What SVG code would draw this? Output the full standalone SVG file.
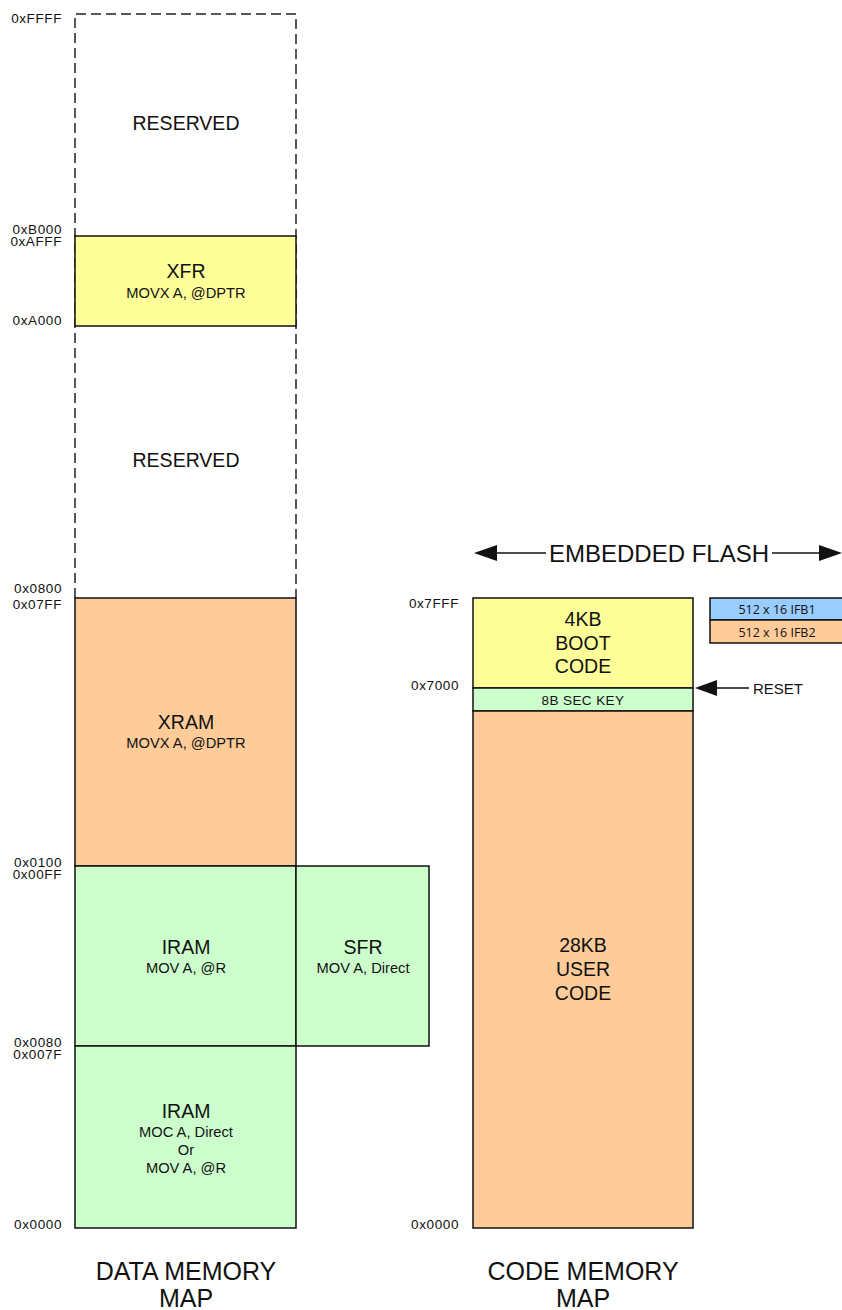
<svg xmlns="http://www.w3.org/2000/svg" width="842" height="1310" viewBox="0 0 842 1310">
<defs>
<style>
text{font-family:"Liberation Sans",Arial,sans-serif;fill:#111}
.addr{font-size:13.5px;letter-spacing:0.6px;text-anchor:end}
.big{font-size:19.5px;text-anchor:middle}
.sub{font-size:14.7px;text-anchor:middle}
.title{font-size:25px;text-anchor:middle}
.ifb{font-family:"Open Sans","Noto Sans",sans-serif;font-size:12.5px;text-anchor:middle}
.box{stroke:#111;stroke-width:1.5}
.dash{fill:none;stroke:#222;stroke-width:1.5;stroke-dasharray:10 5}
.yel{fill:#FFFF99}.org{fill:#FFCC99}.grn{fill:#CCFFCC}.blu{fill:#99CCFF}
</style>
</defs>
<g id="data-reserved-frame">
<path class="dash" d="M75,598 V14 H296 V598"/>
</g>
<g id="reserved-top"><text class="big" x="186" y="130">RESERVED</text></g>
<g id="xfr">
<rect class="box yel" x="75" y="236" width="221" height="90"/>
<text class="big" x="186" y="278">XFR</text>
<text class="sub" x="186" y="298">MOVX A, @DPTR</text>
</g>
<g id="reserved-mid"><text class="big" x="186" y="467">RESERVED</text></g>
<g id="xram">
<rect class="box org" x="75" y="598" width="221" height="268"/>
<text class="big" x="186" y="729">XRAM</text>
<text class="sub" x="186" y="748">MOVX A, @DPTR</text>
</g>
<g id="iram-upper">
<rect class="box grn" x="75" y="866" width="221" height="180"/>
<text class="big" x="186" y="954">IRAM</text>
<text class="sub" x="186" y="973">MOV A, @R</text>
</g>
<g id="sfr">
<rect class="box grn" x="296" y="866" width="133" height="180"/>
<text class="big" x="363" y="954">SFR</text>
<text class="sub" x="363" y="973">MOV A, Direct</text>
</g>
<g id="iram-lower">
<rect class="box grn" x="75" y="1046" width="221" height="182"/>
<text class="big" x="186" y="1118">IRAM</text>
<text class="sub" x="186" y="1137">MOC A, Direct</text>
<text class="sub" x="186" y="1155">Or</text>
<text class="sub" x="186" y="1173">MOV A, @R</text>
</g>
<g id="data-addresses">
<text class="addr" x="62" y="23">0xFFFF</text>
<text class="addr" x="62" y="234">0xB000</text>
<text class="addr" x="62" y="246">0xAFFF</text>
<text class="addr" x="62" y="325">0xA000</text>
<text class="addr" x="62" y="593">0x0800</text>
<text class="addr" x="62" y="609">0x07FF</text>
<text class="addr" x="62" y="867">0x0100</text>
<text class="addr" x="62" y="879">0x00FF</text>
<text class="addr" x="62" y="1047">0x0080</text>
<text class="addr" x="62" y="1059">0x007F</text>
<text class="addr" x="62" y="1229">0x0000</text>
</g>
<g id="data-title">
<text class="title" x="186" y="1280">DATA MEMORY</text>
<text class="title" x="186" y="1307">MAP</text>
</g>
<g id="boot">
<rect class="box yel" x="473" y="598" width="220" height="90"/>
<text class="big" x="583" y="626">4KB</text>
<text class="big" x="583" y="650">BOOT</text>
<text class="big" x="583" y="673">CODE</text>
</g>
<g id="seckey">
<rect class="box grn" x="473" y="688" width="220" height="23"/>
<text x="583" y="705" style="font-size:13.5px;letter-spacing:0.4px;text-anchor:middle">8B SEC KEY</text>
</g>
<g id="user">
<rect class="box org" x="473" y="711" width="220" height="517"/>
<text class="big" x="583" y="952">28KB</text>
<text class="big" x="583" y="976">USER</text>
<text class="big" x="583" y="1000">CODE</text>
</g>
<g id="ifb1">
<rect class="box blu" x="710" y="598" width="134" height="22"/>
<text class="ifb" x="777" y="614">512 x 16 IFB1</text>
</g>
<g id="ifb2">
<rect class="box org" x="710" y="620" width="134" height="23"/>
<text class="ifb" x="777" y="637">512 x 16 IFB2</text>
</g>
<g id="code-addresses">
<text class="addr" x="459" y="608">0x7FFF</text>
<text class="addr" x="459" y="690">0x7000</text>
<text class="addr" x="459" y="1229">0x0000</text>
</g>
<g id="code-title">
<text class="title" x="583" y="1280">CODE MEMORY</text>
<text class="title" x="583" y="1307">MAP</text>
</g>
<g id="flash-label">
<text x="659" y="562" style="font-size:24px;text-anchor:middle">EMBEDDED FLASH</text>
</g>
<g id="reset-label">
<text x="753" y="694" style="font-size:15px">RESET</text>
</g>
<g id="connectors" stroke="#111" stroke-width="1.5" fill="#111">
<line x1="496" y1="553" x2="546" y2="553"/>
<polygon stroke="none" points="474,553 497,545 497,561"/>
<line x1="772" y1="553" x2="820" y2="553"/>
<polygon stroke="none" points="842,553 819,545 819,561"/>
<line x1="716" y1="688" x2="749" y2="688"/>
<polygon stroke="none" points="695,688 717,680 717,696"/>
</g>
</svg>
